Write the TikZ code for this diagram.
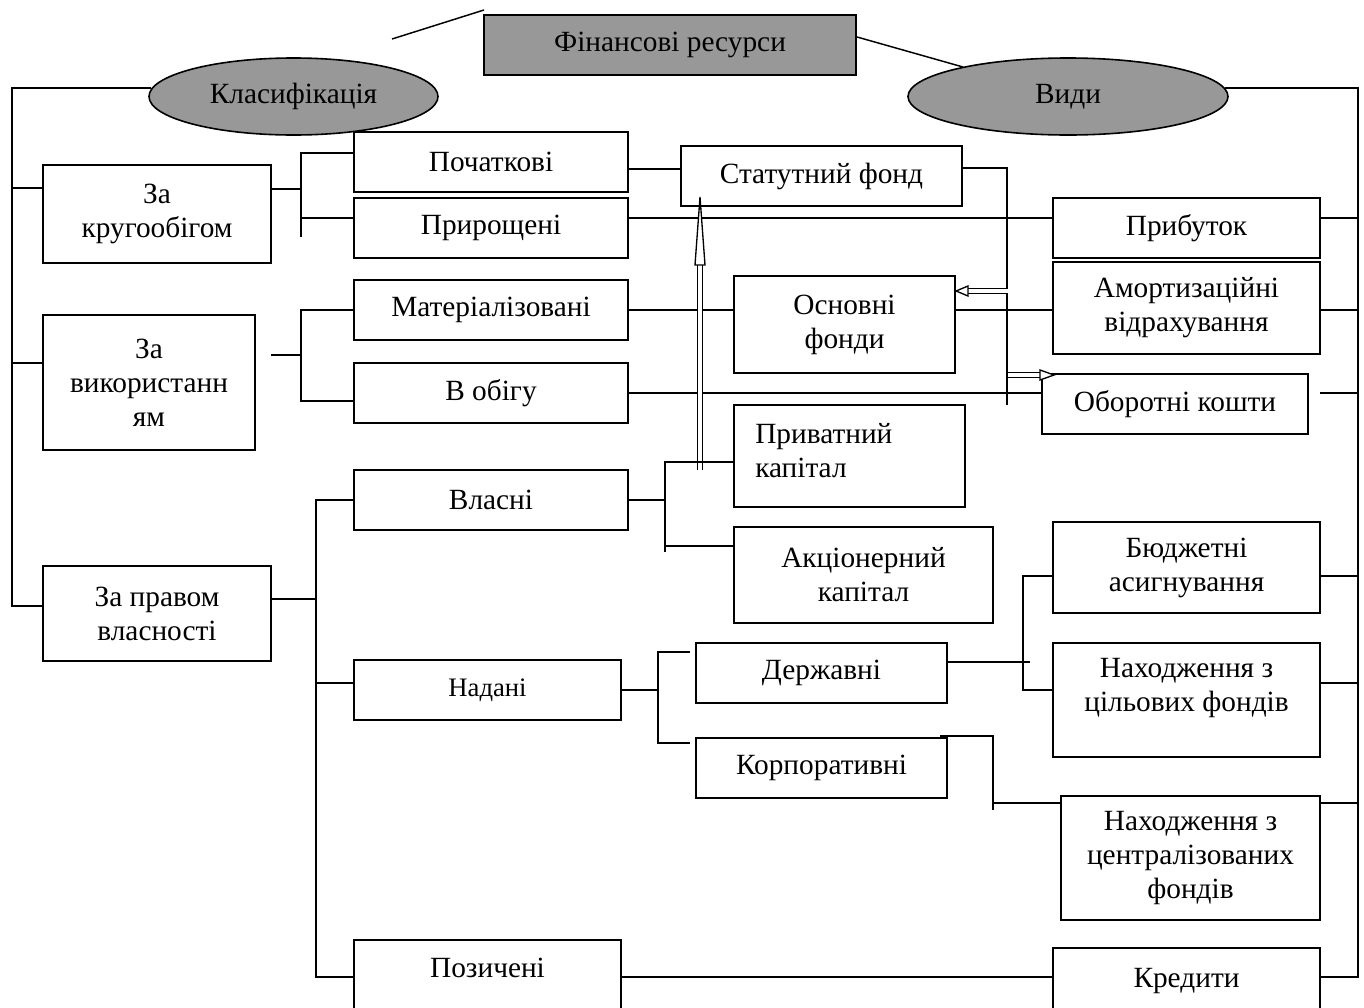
\documentclass[tikz,border=0pt]{standalone}
\usepackage{fontspec}
\setmainfont{Liberation Serif}
\usetikzlibrary{shapes.geometric}
\definecolor{boxgray}{RGB}{152,152,152}
\newcommand\mainfnt{\fontsize{22}{25.5}\selectfont}
\newcommand\smallfnt{\fontsize{20}{24}\selectfont}
\tikzset{
  sz/.style 2 args={minimum width=#1*0.75pt, minimum height=#2*0.75pt},
  box/.style={draw, line width=1.6pt, inner sep=0pt, align=center, font=\mainfnt},
  oval/.style={ellipse, draw, line width=1.2pt, fill=boxgray, inner sep=0pt, font=\mainfnt},
  ln/.style={line width=1.5pt},
  thin line/.style={line width=1.1pt},
  dbl/.style={line width=1pt, double, double distance=3pt},
  headtri/.style={line width=1pt, fill=white},
}
\begin{document}
\begin{tikzpicture}[x=0.75pt,y=-0.75pt]
\useasboundingbox (0,0) rectangle (1364,1007);

% top
\node[box, fill=boxgray, sz={372}{60}] (fin) at (670,45) {Фінансові ресурси};
\node[oval, sz={289}{77}] (klas) at (293.5,96.5) {Класифікація};
\node[oval, sz={320}{77}] (vydy) at (1068,96.5) {Види};

% left column
\node[box, sz={228}{98}] (krug) at (157,214) {За\\кругообігом};
\node[box, sz={212}{135}] (vyk) at (149,382.5) {За\\використанн\\ям};
\node[box, sz={228}{95}] (prav) at (157,613.5) {За правом\\власності};

% second column
\node[box, sz={274}{60}] (poch) at (491,162) {Початкові};
\node[box, sz={274}{60}] (pryr) at (491,228) {Прирощені};
\node[box, sz={274}{60}] (mat) at (491,310) {Матеріалізовані};
\node[box, sz={274}{60}] (obig) at (491,393) {В обігу};
\node[box, sz={274}{60}] (vlas) at (491,500) {Власні};
\node[box, sz={267}{60}, font=\smallfnt] (nad) at (487.5,690) {Надані};
\node[box, sz={267}{75}] (poz) at (487.5,977.5) {};
\node[font=\mainfnt] (pozt) at (487.5,968) {Позичені};

% third column
\node[box, sz={281}{60}] (stat) at (821.5,176) {Статутний фонд};
\node[box, sz={221}{97}] (osn) at (844.5,324.5) {Основні\\фонди};
\node[box, sz={231}{102}] (pryv) at (849.5,456) {};
\node[font=\mainfnt, align=left, anchor=west, inner sep=0pt] (pryvt) at (755,451) {Приватний\\капітал};
\node[box, sz={259}{96}] (akc) at (863.5,575) {Акціонерний\\капітал};
\node[box, sz={251}{60}] (derzh) at (821.5,673) {Державні};
\node[box, sz={251}{60}] (korp) at (821.5,768) {Корпоративні};

% right column
\node[box, sz={267}{60}] (prib) at (1186.5,228) {Прибуток};
\node[box, sz={267}{92}] (amort) at (1186.5,308) {Амортизаційні\\відрахування};
\node[box, sz={266}{60}] (obor) at (1175,404) {Оборотні кошти};
\node[box, sz={267}{91}] (budzh) at (1186.5,567.5) {Бюджетні\\асигнування};
\node[box, sz={267}{114}] (tsil) at (1186.5,700) {};
\node[font=\mainfnt, align=center] (tsilt) at (1186.5,688) {Находження з\\цільових фондів};
\node[box, sz={259}{124}] (tsentr) at (1190.5,858) {Находження з\\централізованих\\фондів};
\node[box, sz={267}{67}] (kred) at (1186.5,981.5) {Кредити};

% free coordinates
\coordinate (tl1) at (392,39);
\coordinate (tl2) at (484,10);
\coordinate (tr2) at (963,67);
\coordinate (lbusT) at (12,88);
\coordinate (rbusT) at (1358,88);

% top lines
\draw[thin line] (tl1) -- (tl2);
\draw[thin line] (fin.east |- 0,37) -- (tr2);

% left bus
\draw[ln] (151,88) -- (lbusT) -- (12,606) -- (prav.west |- 0,606);
\draw[ln] (12,188) -- (krug.west |- 0,188);
\draw[ln] (12,363) -- (vyk.west |- 0,363);

% krug branches
\draw[ln] (krug.east |- 0,189) -- (301,189);
\draw[ln] (301,237) -- (301,153) -- (poch.west |- 0,153);
\draw[ln] (301,218) -- (pryr.west |- 0,218);

% vyk branches
\draw[ln] (271,355) -- (301,355);
\draw[ln] (mat.west |- 0,310) -- (301,310) -- (301,401) -- (obig.west |- 0,401);

% prav branches
\draw[ln] (prav.east |- 0,599) -- (316,599);
\draw[ln] (vlas.west |- 0,500) -- (316,500) -- (316,977) -- (poz.west |- 0,977);
\draw[ln] (316,683) -- (nad.west |- 0,683);

% middle links
\draw[ln] (poch.east |- 0,169) -- (stat.west |- 0,169);
\draw[ln] (pryr.east |- 0,218) -- (prib.west |- 0,218);
\draw[ln] (mat.east |- 0,310) -- (osn.west |- 0,310);
\draw[ln] (osn.east |- 0,310) -- (amort.west |- 0,310);
\draw[ln] (obig.east |- 0,393) -- (obor.west |- 0,393);
\draw[ln] (stat.east |- 0,168) -- (1007,168) -- (1007,405);

% double arrows
\draw[dbl] (700,470) -- (700,265);
\draw[headtri] (695,265) -- (700,197) -- (705,265) -- cycle;
\draw[dbl] (1008,291) -- (968,291);
\draw[headtri] (968,286) -- (osn.east |- 0,291) -- (968,296) -- cycle;
\draw[dbl] (1008,375) -- (1040,375);
\draw[headtri] (1040,370) -- (1054,375) -- (1040,380) -- cycle;

% vlas branches
\draw[ln] (vlas.east |- 0,500) -- (665,500);
\draw[ln] (665,552) -- (665,462) -- (pryv.west |- 0,462);
\draw[ln] (665,546) -- (akc.west |- 0,546);

% nad branches
\draw[ln] (nad.east |- 0,690) -- (658,690);
\draw[ln] (690,652) -- (658,652) -- (658,743) -- (690,743);

% derzh branches
\draw[ln] (derzh.east |- 0,662) -- (1030,662);
\draw[ln] (budzh.west |- 0,576) -- (1023,576) -- (1023,690) -- (tsil.west |- 0,690);

% korp
\draw[ln] (940,736) -- (993,736) -- (993,810);
\draw[ln] (993,803) -- (tsentr.west |- 0,803);

% poz - kred
\draw[ln] (poz.east |- 0,977) -- (kred.west |- 0,977);

% right bus
\draw[ln] (1225,88) -- (rbusT) -- (1358,977) -- (kred.east |- 0,977);
\draw[ln] (prib.east |- 0,218) -- (1358,218);
\draw[ln] (amort.east |- 0,310) -- (1358,310);
\draw[ln] (1320,393) -- (1358,393);
\draw[ln] (budzh.east |- 0,576) -- (1358,576);
\draw[ln] (tsil.east |- 0,683) -- (1358,683);
\draw[ln] (tsentr.east |- 0,803) -- (1358,803);
\end{tikzpicture}
\end{document}
